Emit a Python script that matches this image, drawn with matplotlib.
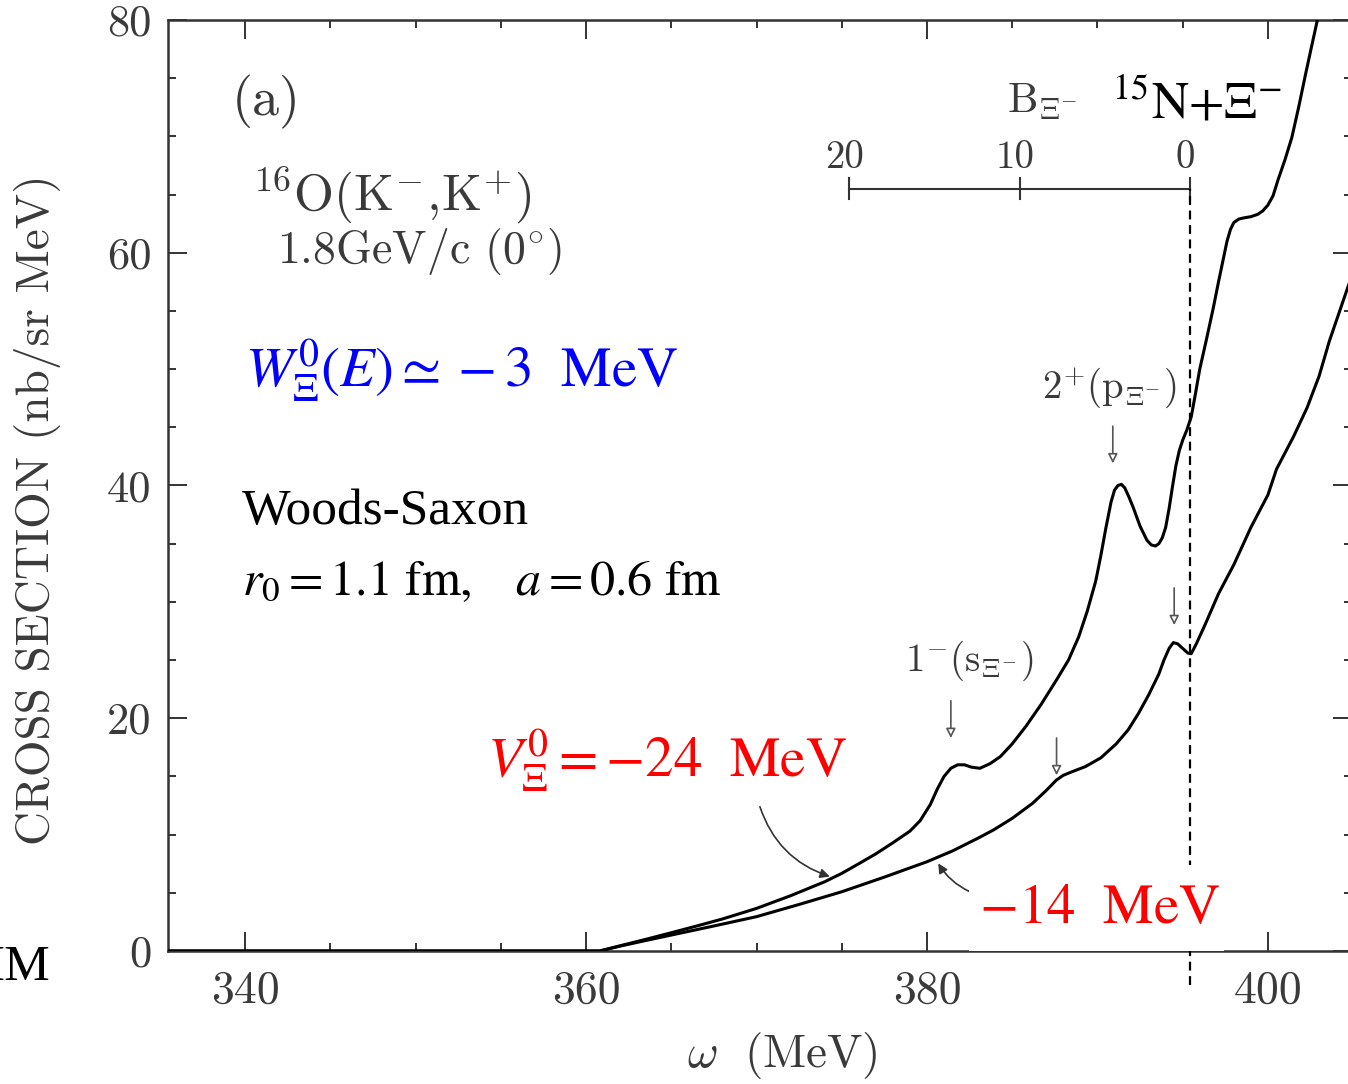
import matplotlib
matplotlib.use('Agg')
import matplotlib.pyplot as plt
from matplotlib.patches import Rectangle
from matplotlib.ticker import MultipleLocator

plt.rcParams['font.family'] = 'cmr10'
plt.rcParams['mathtext.fontset'] = 'cm'
plt.rcParams['axes.unicode_minus'] = False

ink = '#3a3a3a'

# 16O(K-,K+) spectrum, Woods-Saxon Xi potential, V0 = -24 MeV
omega_v24 = [335.5, 360.8, 362.0, 363.5, 365.0, 366.5, 368.0, 370.0, 372.0, 374.0,
             375.0, 376.0, 377.0, 378.0, 379.0, 379.6, 380.2, 380.6, 381.0, 381.4,
             381.8, 382.2, 382.6, 383.1, 383.7, 384.3, 385.0, 385.8, 386.7, 387.6,
             388.3, 388.9, 389.4, 389.9, 390.2, 390.5, 390.8, 391.0, 391.2, 391.4,
             391.6, 391.85, 392.1, 392.5, 392.9, 393.15, 393.4, 393.6, 393.8, 394.0,
             394.2, 394.4, 394.6, 394.8, 395.0, 395.25, 395.5, 395.7, 396.0, 396.4,
             396.8, 397.1, 397.4, 397.6, 397.8, 398.0, 398.3, 398.6, 399.0, 399.4,
             399.7, 400.0, 400.3, 400.6, 401.0, 401.4, 401.8, 402.2, 402.6, 402.9,
             403.2]
sigma_v24 = [0.0, 0.0, 0.45, 1.0, 1.57, 2.15, 2.75, 3.66, 4.75, 5.95,
             6.67, 7.5, 8.35, 9.3, 10.3, 11.2, 12.6, 13.9, 15.0, 15.7,
             16.0, 16.0, 15.8, 15.7, 16.1, 16.7, 17.8, 19.3, 21.2, 23.3,
             25.0, 27.0, 29.2, 31.8, 34.0, 36.4, 38.6, 39.6, 40.0, 40.1,
             39.8, 39.0, 38.1, 36.5, 35.3, 34.9, 34.8, 35.0, 35.5, 36.4,
             38.0, 39.9, 41.7, 43.0, 43.9, 44.8, 45.9, 47.5, 50.0, 52.6,
             55.3, 57.5, 59.6, 61.0, 62.0, 62.6, 62.9, 63.0, 63.1, 63.3,
             63.6, 64.1, 64.9, 66.3, 68.0, 69.9, 72.5, 75.3, 78.0, 80.0,
             82.0]

# same, V0 = -14 MeV
omega_v14 = [335.5, 360.8, 362.0, 363.5, 365.0, 367.5, 370.0, 372.5, 375.0, 377.5,
             380.0, 381.5, 383.0, 383.9, 385.0, 386.2, 387.0, 387.6, 388.0, 388.5,
             389.3, 390.2, 391.1, 391.8, 392.4, 393.0, 393.6, 393.9, 394.2, 394.45,
             394.7, 395.0, 395.3, 395.5, 395.8, 396.3, 397.1, 398.0, 399.0, 400.0,
             400.5, 401.5, 402.3, 403.0, 403.6, 404.7, 405.0]
sigma_v14 = [0.0, 0.0, 0.42, 0.9, 1.37, 2.15, 2.95, 4.0, 5.09, 6.35,
             7.67, 8.6, 9.7, 10.4, 11.4, 12.7, 13.8, 14.7, 15.1, 15.4,
             15.85, 16.6, 17.8, 19.0, 20.4, 22.0, 23.8, 25.0, 26.0, 26.5,
             26.4, 26.0, 25.6, 25.55, 26.4, 28.0, 30.7, 33.2, 36.4, 39.2,
             41.4, 44.2, 46.7, 49.4, 52.4, 57.1, 58.3]

# Xi- binding energy scale, zero at the 15N + Xi- threshold
b_threshold = 395.45
b_ticks = [20, 10, 0]

# bound-state markers: 1-(s) and 2+(p) for each potential
state_omega = [381.4, 390.9, 387.6, 394.5]
state_sigma = [18.3, 41.9, 15.1, 28.0]

fig = plt.figure(figsize=(13.48, 10.84), dpi=100)
ax = fig.add_axes([168 / 1348, 133 / 1084, 1184 / 1348, 931 / 1084])

ax.plot(omega_v24, sigma_v24, color='black', lw=2.2, zorder=4)
ax.plot(omega_v14, sigma_v14, color='black', lw=2.2, zorder=4)

ax.set_xlim(335.48, 404.93)
ax.set_ylim(0, 80)
ax.xaxis.set_major_locator(MultipleLocator(20))
ax.xaxis.set_minor_locator(MultipleLocator(5))
ax.yaxis.set_major_locator(MultipleLocator(20))
ax.yaxis.set_minor_locator(MultipleLocator(5))
ax.tick_params(which='both', direction='in', top=True, right=True, color='#333333', width=1.4)
ax.tick_params(which='major', length=14)
ax.tick_params(which='minor', length=5.5)
ax.tick_params(axis='x', which='major', pad=14, labelsize=33, labelcolor=ink)
ax.tick_params(axis='y', which='major', pad=12, labelsize=32, labelcolor=ink)
for s in ax.spines.values():
    s.set_linewidth(1.8)
    s.set_color('#333333')

ax.set_ylabel('CROSS SECTION (nb/sr MeV)', fontsize=34, color=ink)
ax.yaxis.label.set_va('center')
ax.yaxis.set_label_coords(-0.11, 0.474)
ax.set_xlabel(r'$\omega\ \ (\mathrm{MeV})$', fontsize=34, color=ink)
ax.xaxis.label.set_va('center')
ax.xaxis.set_label_coords(0.5186, -0.112)

# binding-energy bar and threshold line
bar_y = 65.5
ax.plot([b_threshold - max(b_ticks), b_threshold], [bar_y, bar_y], color='#333333', lw=1.5)
for b in b_ticks:
    ax.plot([b_threshold - b] * 2, [bar_y - 0.9, bar_y + 0.9], color='#333333', lw=1.5)
    ax.text(b_threshold - b - 0.3, 67.3, str(b), fontsize=28, color=ink,
            ha='center', va='baseline')
ax.plot([b_threshold, b_threshold], [-2.9, bar_y], color='black', lw=1.6,
        ls=(0, (4, 2.5)), clip_on=False, zorder=3)
ax.text(384.7, 72.0, r'$\mathrm{B}_{\Xi^{-}}$', fontsize=31, color=ink, va='baseline')
ax.text(390.85, 71.55, r'$^{15}\mathrm{N}{+}\Xi^{-}$', fontsize=37, color='black',
        va='baseline', math_fontfamily='stix')

# state arrows and labels
for w, s in zip(state_omega, state_sigma):
    ax.annotate('', xy=(w, s), xytext=(w, s + 3.2),
                arrowprops=dict(arrowstyle='-|>', fc='white', ec='#555555',
                                lw=1.2, mutation_scale=14, shrinkA=0, shrinkB=0))
ax.text(382.5, 24.1, r'$1^{-}(\mathrm{s}_{\Xi^{-}})$', fontsize=28, color=ink,
        ha='center', va='baseline')
ax.text(390.73, 47.5, r'$2^{+}(\mathrm{p}_{\Xi^{-}})$', fontsize=28, color=ink,
        ha='center', va='baseline')

# reaction label
ax.text(339.24, 71.8, '(a)', fontsize=39, color=ink, va='baseline')
ax.text(340.41, 63.65, r'$^{16}\mathrm{O}(\mathrm{K}^{-}{,}\mathrm{K}^{+})$', fontsize=37,
        color=ink, va='baseline')
ax.text(341.88, 59.1, r'1.8GeV/c (0$^{\circ}$)', fontsize=33, color=ink, va='baseline')

# potential parameters
ax.text(340.0, 48.45, r'$W^{0}_{\Xi}(E)\simeq -3\ \ \mathrm{MeV}$', fontsize=41,
        color='#0000ff', va='baseline', math_fontfamily='stix')
ax.text(339.8, 36.7, 'Woods-Saxon', fontsize=37, color='black', va='baseline',
        fontfamily='Liberation Serif')
ax.text(339.8, 30.6, r'$r_0 = 1.1\ \mathrm{fm},\ \ \ a = 0.6\ \mathrm{fm}$', fontsize=36,
        color='black', va='baseline', math_fontfamily='stix')
ax.text(354.2, 14.95, r'$V^{0}_{\Xi} = -24\ \ \mathrm{MeV}$', fontsize=41,
        color='#ff0000', va='baseline', math_fontfamily='stix')

ax.add_patch(Rectangle((382.46, 0.04), 14.96, 7.36, facecolor='white', edgecolor='none',
                       zorder=5, clip_on=False))
ax.text(383.05, 2.4, r'$-14\ \ \mathrm{MeV}$', fontsize=41, color='#ff0000',
        va='baseline', math_fontfamily='stix', zorder=6)

ax.annotate('', xy=(374.3, 6.4), xytext=(370.2, 12.4),
            arrowprops=dict(arrowstyle='-|>', color='#333333', lw=1.2, mutation_scale=14,
                            shrinkA=0, shrinkB=0, connectionstyle='arc3,rad=0.25'))
ax.annotate('', xy=(380.66, 7.53), xytext=(382.5, 5.1),
            arrowprops=dict(arrowstyle='-|>', color='#333333', lw=1.2, mutation_scale=14,
                            shrinkA=0, shrinkB=0, connectionstyle='arc3,rad=-0.15'))

fig.text(50 / 1348, (1084 - 980) / 1084, 'IM', fontsize=37, color='black', ha='right',
         va='baseline', fontfamily='Liberation Serif')

fig.savefig('out.png', dpi=100)
